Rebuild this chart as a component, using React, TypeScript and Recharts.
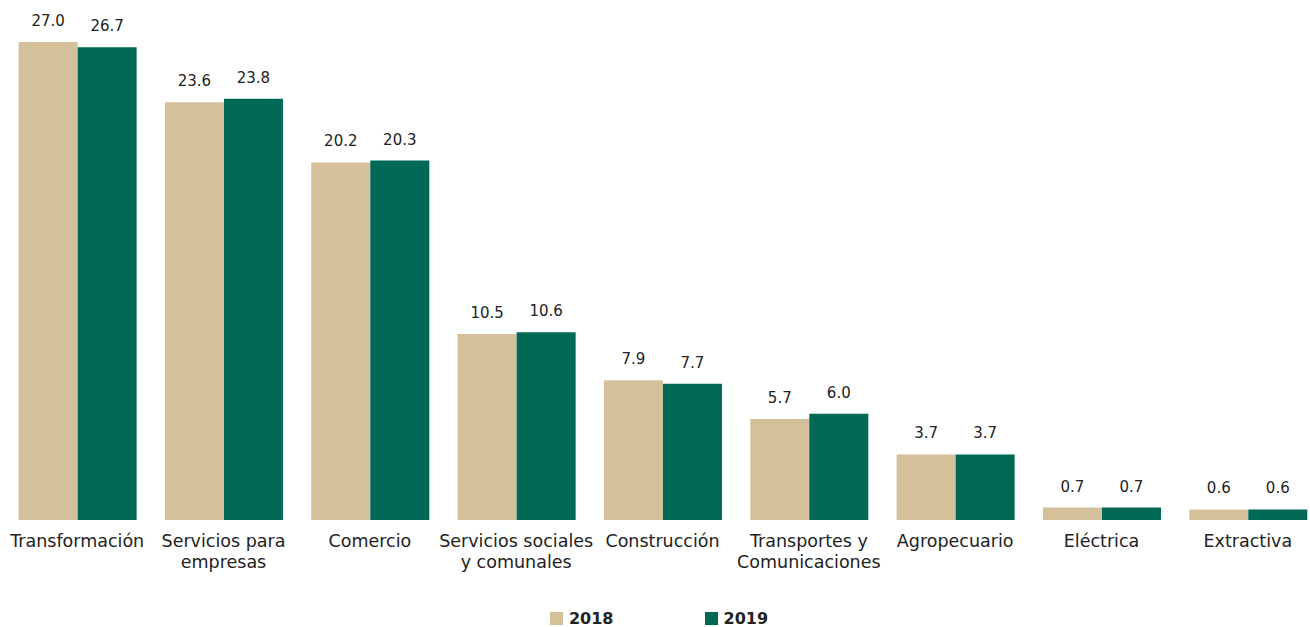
import React from "react";
import { BarChart, Bar, XAxis, YAxis, LabelList, Legend } from "recharts";

const categories = [
  "Transformación",
  "Servicios para\nempresas",
  "Comercio",
  "Servicios sociales\ny comunales",
  "Construcción",
  "Transportes y\nComunicaciones",
  "Agropecuario",
  "Eléctrica",
  "Extractiva",
];
const values2018 = [27.0, 23.6, 20.2, 10.5, 7.9, 5.7, 3.7, 0.7, 0.6];
const values2019 = [26.7, 23.8, 20.3, 10.6, 7.7, 6.0, 3.7, 0.7, 0.6];
const seriesNames = ["2018", "2019"];
const colors = ["#D4C09B", "#006956"];

const data = categories.map((c, i) => ({
  name: c,
  y2018: values2018[i],
  y2019: values2019[i],
}));

const FONT = "'DejaVu Sans', sans-serif";

const Tick = (props: any) => {
  const { x, y, payload } = props;
  const lines = String(payload.value).split("\n");
  return (
    <g transform={`translate(${x},${y})`}>
      {lines.map((l: string, i: number) => (
        <text
          key={i}
          x={0}
          y={19 + i * 21}
          textAnchor="middle"
          fontFamily={FONT}
          fontSize={17.5}
          fill="#222"
        >
          {l}
        </text>
      ))}
    </g>
  );
};

const LegendContent = () => (
  <div
    style={{
      display: "flex",
      justifyContent: "center",
      gap: 91,
      fontFamily: FONT,
      fontWeight: "bold",
      fontSize: 16,
      color: "#222",
      paddingLeft: 8,
    }}
  >
    {seriesNames.map((n, i) => (
      <div key={n} style={{ display: "flex", alignItems: "center" }}>
        <div
          style={{ width: 13, height: 13, background: colors[i], marginRight: 6 }}
        />
        <span>{n}</span>
      </div>
    ))}
  </div>
);

export default function App() {
  return (
    <div
      style={{
        position: "absolute",
        left: 0,
        top: 0,
        width: 1310,
        height: 627,
        overflow: "hidden",
        background: "#fff",
      }}
    >
      <BarChart
        width={1321}
        height={627}
        data={data}
        margin={{ top: 42, right: 0, left: 4, bottom: 28 }}
        barCategoryGap="10%"
        barGap={0}
      >
        <XAxis
          dataKey="name"
          axisLine={false}
          tickLine={false}
          interval={0}
          height={60}
          tick={<Tick />}
        />
        <YAxis hide domain={[0, 27]} />
        <Legend
          verticalAlign="bottom"
          content={<LegendContent />}
          wrapperStyle={{ bottom: -1, left: 0, width: 1310 }}
        />
        <Bar dataKey="y2018" name="2018" fill={colors[0]} isAnimationActive={false}>
          <LabelList
            dataKey="y2018"
            position="top"
            offset={16}
            formatter={(v: any) => Number(v).toFixed(1)}
            style={{ fontFamily: FONT, fontSize: 15, fill: "#222" }}
          />
        </Bar>
        <Bar dataKey="y2019" name="2019" fill={colors[1]} isAnimationActive={false}>
          <LabelList
            dataKey="y2019"
            position="top"
            offset={16}
            formatter={(v: any) => Number(v).toFixed(1)}
            style={{ fontFamily: FONT, fontSize: 15, fill: "#222" }}
          />
        </Bar>
      </BarChart>
    </div>
  );
}
